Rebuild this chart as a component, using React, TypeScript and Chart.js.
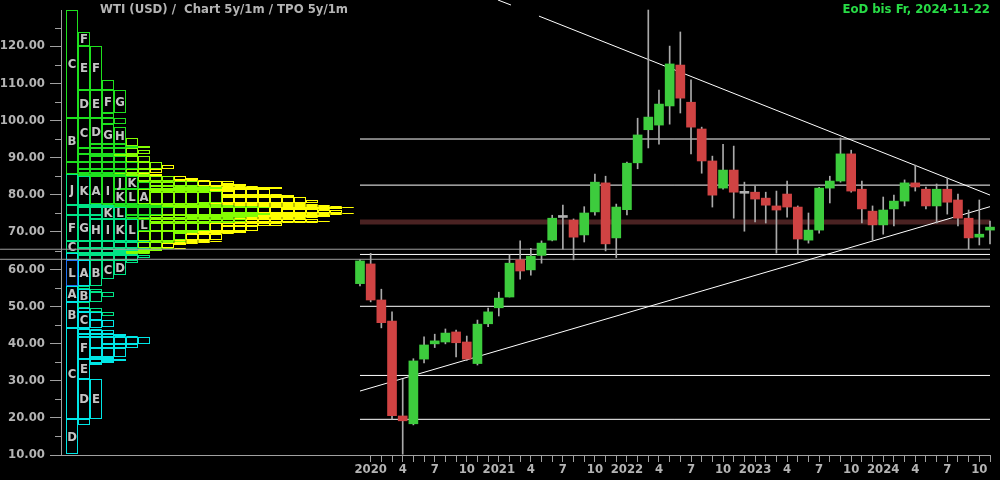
import React, { useEffect, useRef } from "react";
import { Chart, registerables } from "chart.js";

Chart.register(...registerables);

// ---- categories (monthly candles) ----
const months = [
  "2019-12",
  "2020-01", "2020-02", "2020-03", "2020-04", "2020-05", "2020-06", "2020-07", "2020-08", "2020-09", "2020-10", "2020-11", "2020-12",
  "2021-01", "2021-02", "2021-03", "2021-04", "2021-05", "2021-06", "2021-07", "2021-08", "2021-09", "2021-10", "2021-11", "2021-12",
  "2022-01", "2022-02", "2022-03", "2022-04", "2022-05", "2022-06", "2022-07", "2022-08", "2022-09", "2022-10", "2022-11", "2022-12",
  "2023-01", "2023-02", "2023-03", "2023-04", "2023-05", "2023-06", "2023-07", "2023-08", "2023-09", "2023-10", "2023-11", "2023-12",
  "2024-01", "2024-02", "2024-03", "2024-04", "2024-05", "2024-06", "2024-07", "2024-08", "2024-09", "2024-10", "2024-11",
];

// ---- OHLC series ----
const opens = [
  56.1,
  61.4, 51.7, 46.0, 20.5, 18.4, 35.8, 39.9, 40.4, 43.1, 40.4, 34.6, 45.3,
  49.6, 52.5, 62.5, 59.8, 63.7, 67.8, 73.9, 73.2, 69.2, 75.4, 83.2, 68.4,
  76.0, 88.6, 97.5, 98.75, 103.9, 114.9, 104.9, 97.7, 89.1, 81.8, 86.65, 80.4,
  80.7, 79.1, 77.0, 80.2, 76.7, 67.8, 70.5, 81.8, 83.7, 91.0, 81.5, 75.6,
  71.9, 76.2, 78.3, 83.2, 81.5, 77.0, 81.5, 78.6, 73.7, 68.6, 70.5,
];
const highs = [
  62.5,
  64.25, 54.6, 48.5, 30.4, 35.9, 41.8, 42.5, 43.9, 43.6, 42.0, 46.3, 49.5,
  53.8, 63.8, 67.6, 65.6, 67.6, 74.5, 77.2, 73.5, 76.8, 85.6, 85.0, 77.5,
  88.8, 100.6, 129.7, 108.2, 120.0, 123.8, 110.9, 98.2, 90.4, 93.6, 93.1, 83.4,
  82.35, 80.7, 81.0, 83.7, 77.0, 75.1, 82.0, 85.0, 95.3, 92.0, 83.7, 77.0,
  79.4, 79.9, 84.0, 88.0, 82.1, 82.9, 84.5, 80.2, 75.9, 78.6, 72.9,
];
const lows = [
  55.5,
  51.2, 44.2, 19.7, 10.2, 18.1, 34.8, 38.9, 39.9, 36.4, 35.4, 34.2, 44.5,
  47.4, 52.5, 57.3, 58.4, 61.6, 67.6, 65.4, 62.5, 67.3, 74.5, 64.9, 63.1,
  74.6, 87.0, 92.6, 93.6, 99.0, 102.0, 91.0, 85.8, 76.7, 81.5, 73.7, 70.2,
  72.7, 72.4, 64.3, 74.0, 64.1, 67.0, 69.7, 77.8, 83.4, 80.7, 72.4, 67.8,
  69.4, 71.6, 77.0, 81.0, 76.2, 72.4, 74.8, 71.6, 65.4, 66.5, 66.75,
];
const closes = [
  62.2,
  51.7, 45.6, 20.6, 19.2, 35.3, 39.6, 40.7, 42.8, 40.2, 35.8, 45.2, 48.5,
  52.2, 61.6, 59.5, 63.5, 67.0, 73.7, 73.9, 68.6, 75.1, 83.4, 66.8, 76.7,
  88.5, 96.1, 100.9, 104.4, 115.2, 106.0, 98.2, 89.1, 79.9, 86.65, 80.7, 80.4,
  78.85, 77.2, 75.9, 76.7, 68.1, 70.5, 81.8, 83.7, 91.0, 81.0, 76.2, 71.9,
  75.9, 78.3, 83.2, 82.1, 77.0, 81.5, 78.0, 73.7, 68.4, 69.4, 71.3,
];

// ---- horizontal levels and trend lines ----
const whiteLevels = [95.0, 82.6, 63.95, 50.0, 31.4, 19.6];
const grayLevels = [65.35, 62.65];
const bandLevel = 72.65;
const supportLine = [
  { x: 0, y: 27.2 },
  { x: 59, y: 76.8 },
];
const resistanceLine = [
  { x: 12.92, y: 132.4 },
  { x: 14.14, y: 131.05 },
  { x: 15.5, y: null },
  { x: 16.76, y: 128.07 },
  { x: 59, y: 79.93 },
];

// ---- axis ticks ----
const yMajorTicks = [10, 20, 30, 40, 50, 60, 70, 80, 90, 100, 110, 120];
const yMinorTicks = [15, 25, 35, 45, 55, 65, 75, 85, 95, 105, 115, 125];
const tpoLetters = ["A", "B", "C", "D", "E", "F", "G", "H", "I", "J", "K", "L"];
const yearColors: Record<string, string> = {
  "2019": "#1f72f0",
  "2020": "#00e6e6",
  "2021": "#00e486",
  "2022": "#1ee01e",
  "2023": "#84ff00",
  "2024": "#ffff00",
};

const titleText = "WTI (USD) /  Chart 5y/1m / TPO 5y/1m";
const eodText = "EoD bis Fr, 2024-11-22";

const Y_MIN = 10;
const Y_MAX = 132.4;
const X_MIN = -28;
const GRAY_START = -33.71;
const TPO_MIN = -5 / 12;
const TPO_MAX = -5 / 12 + 929 / 12;
const FONT = "'DejaVu Sans Condensed', 'DejaVu Sans', sans-serif";
const FONT_SIZE = 13;

type Run = { col: number; month: number; lo: number; hi: number };

function buildTpo(): Run[] {
  const lo = lows.map((v) => Math.max(v, Y_MIN));
  const hi = highs.map((v) => Math.min(v, Y_MAX));
  const bounds = Array.from(new Set([...lo, ...hi])).sort((a, b) => a - b);
  const runs: Run[] = [];
  const open = new Map<number, Run>();
  for (let j = 0; j < bounds.length - 1; j++) {
    const a = bounds[j];
    const b = bounds[j + 1];
    const members: number[] = [];
    for (let i = 0; i < months.length; i++) {
      if (lo[i] <= a && hi[i] >= b) members.push(i);
    }
    for (let c = 0; c < members.length; c++) {
      const m = members[c];
      const cur = open.get(c);
      if (cur && cur.month === m && cur.hi === a) {
        cur.hi = b;
      } else {
        const r = { col: c, month: m, lo: a, hi: b };
        runs.push(r);
        open.set(c, r);
      }
    }
    for (const k of Array.from(open.keys())) {
      if (k >= members.length) open.delete(k);
    }
  }
  return runs;
}

export default function App() {
  const ref = useRef<HTMLCanvasElement | null>(null);

  useEffect(() => {
    document.body.style.margin = "0";
    document.body.style.background = "#000";
    const canvas = ref.current;
    if (!canvas) return;

    const runs = buildTpo();
    const last = months.length - 1;

    const bodyColors = opens.map((o, i) =>
      closes[i] > o ? "#3dcc3d" : closes[i] < o ? "#d04343" : "#b0b0b0"
    );

    const lineDs = (data: any[], color: string, width: number, order: number) => ({
      type: "line" as const,
      data,
      borderColor: color,
      borderWidth: width,
      pointRadius: 0,
      fill: false,
      clip: false as any,
      spanGaps: false,
      tension: 0,
      order,
      xAxisID: "x",
      yAxisID: "y",
    });

    const datasets: any[] = [
      {
        type: "bar",
        data: opens.map((o, i) => ({ x: i, y: [o, closes[i]] })),
        backgroundColor: bodyColors,
        barThickness: 9,
        minBarLength: 2,
        grouped: false,
        clip: false,
        order: 0,
        xAxisID: "x",
        yAxisID: "y",
      },
      {
        type: "bar",
        data: lows.map((l, i) => ({ x: i, y: [l, highs[i]] })),
        backgroundColor: "#aaaaaa",
        barThickness: 1,
        grouped: false,
        clip: false,
        order: 1,
        xAxisID: "x",
        yAxisID: "y",
      },
      lineDs(supportLine, "#ffffff", 1, 3),
      lineDs(resistanceLine, "#ffffff", 1, 3),
      ...whiteLevels.map((v) => lineDs([{ x: 0, y: v }, { x: last, y: v }], "#ffffff", 1, 4)),
      ...grayLevels.map((v) => lineDs([{ x: GRAY_START, y: v }, { x: last, y: v }], "#a0a0a0", 1, 5)),
      lineDs([{ x: 0, y: bandLevel }, { x: last, y: bandLevel }], "#4a2222", 5, 10),
    ];

    const overlay = {
      id: "overlay",
      beforeDraw(chart: any) {
        const ctx = chart.ctx;
        ctx.save();
        ctx.fillStyle = "#000";
        ctx.fillRect(0, 0, chart.width, chart.height);
        ctx.restore();
      },
      beforeDatasetsDraw(chart: any) {
        const ctx = chart.ctx;
        const xt = chart.scales.xt;
        const y = chart.scales.y;
        ctx.save();
        ctx.lineWidth = 1;
        for (const r of runs) {
          const x0 = Math.round(xt.getPixelForValue(r.col));
          const x1 = Math.round(xt.getPixelForValue(r.col + 1));
          const y0 = Math.round(y.getPixelForValue(r.hi));
          const y1 = Math.round(y.getPixelForValue(r.lo));
          const year = months[r.month].slice(0, 4);
          ctx.strokeStyle = yearColors[year] || "#00ff00";
          const h = Math.max(y1 - y0 - 1, 0);
          ctx.strokeRect(x0 + 0.5, y0 + 0.5, x1 - x0 - 1, h);
        }
        ctx.fillStyle = "#c4c4c4";
        ctx.font = `bold ${FONT_SIZE}px ${FONT}`;
        ctx.textAlign = "center";
        ctx.textBaseline = "middle";
        for (const r of runs) {
          const yTop = y.getPixelForValue(r.hi);
          const yBot = y.getPixelForValue(r.lo);
          if (yBot - yTop < 12) continue;
          const xc = (xt.getPixelForValue(r.col) + xt.getPixelForValue(r.col + 1)) / 2;
          const m = parseInt(months[r.month].slice(5), 10);
          ctx.fillText(tpoLetters[m - 1], xc, (yTop + yBot) / 2 + 1);
        }
        ctx.restore();
      },
      afterDraw(chart: any) {
        const ctx = chart.ctx;
        const y = chart.scales.y;
        const area = chart.chartArea;
        ctx.save();
        ctx.strokeStyle = "#a0a0a0";
        ctx.lineWidth = 1;
        const ax = Math.round(area.left) + 0.5;
        ctx.beginPath();
        ctx.moveTo(ax, Math.round(y.getPixelForValue(Math.max(...highs))));
        ctx.lineTo(ax, Math.round(area.bottom) + 1);
        for (const v of yMinorTicks) {
          const py = Math.round(y.getPixelForValue(v)) + 0.5;
          ctx.moveTo(area.left - 6, py);
          ctx.lineTo(area.left, py);
        }
        ctx.stroke();
        ctx.font = `bold ${FONT_SIZE}px ${FONT}`;
        ctx.textBaseline = "middle";
        ctx.textAlign = "left";
        ctx.fillStyle = "#b4b4b4";
        ctx.fillText(titleText, 100, 10);
        ctx.textAlign = "right";
        ctx.fillStyle = "#28dc46";
        ctx.fillText(eodText, area.right, 10);
        ctx.restore();
      },
    };

    const tickFont = { family: FONT, size: FONT_SIZE, weight: "bold" as const };

    const chart = new Chart(canvas, {
      type: "bar",
      data: { datasets },
      options: {
        responsive: false,
        animation: false,
        events: [],
        layout: { padding: { left: 0, right: 10, top: 0, bottom: 0 } },
        plugins: { legend: { display: false }, tooltip: { enabled: false } },
        scales: {
          x: {
            type: "linear",
            position: "bottom",
            min: X_MIN,
            max: last,
            offset: false,
            afterBuildTicks: (s: any) => {
              s.ticks = months.slice(1).map((_, k) => ({ value: k + 1 }));
            },
            afterFit: (s: any) => {
              s.height = 25;
              s.paddingLeft = 0;
              s.paddingRight = 0;
            },
            ticks: {
              autoSkip: false,
              maxRotation: 0,
              color: "#b4b4b4",
              font: tickFont,
              padding: 0,
              callback: (v: any) => {
                const i = Math.round(Number(v));
                const lab = months[i];
                if (!lab) return "";
                const yy = lab.slice(0, 4);
                const mm = parseInt(lab.slice(5), 10);
                if (mm === 1) return yy;
                if (mm % 3 === 1) return String(mm);
                return "";
              },
            },
            grid: { drawOnChartArea: false, tickLength: 7, color: "#a0a0a0", offset: false },
            border: { color: "#a0a0a0" },
          },
          xt: {
            type: "linear",
            axis: "x",
            position: "top",
            display: true,
            min: TPO_MIN,
            max: TPO_MAX,
            offset: false,
            ticks: { display: false },
            grid: { display: false, drawTicks: false },
            border: { display: false },
            afterFit: (s: any) => {
              s.height = 0;
              s.paddingLeft = 0;
              s.paddingRight = 0;
            },
          },
          y: {
            type: "linear",
            position: "left",
            min: Y_MIN,
            max: Y_MAX,
            afterBuildTicks: (s: any) => {
              s.ticks = yMajorTicks.map((v) => ({ value: v }));
            },
            afterFit: (s: any) => {
              s.width = 61;
              s.paddingTop = 0;
              s.paddingBottom = 0;
            },
            ticks: {
              color: "#b4b4b4",
              font: tickFont,
              padding: 5,
              callback: (v: any) => Number(v).toFixed(2),
            },
            grid: { drawOnChartArea: false, tickLength: 11, color: "#a0a0a0" },
            border: { display: false },
          },
        } as any,
      },
      plugins: [overlay],
    } as any);

    return () => chart.destroy();
  }, []);

  return (
    <div style={{ width: 1000, height: 480, background: "#000" }}>
      <canvas ref={ref} width={1000} height={480} style={{ display: "block" }} />
    </div>
  );
}
